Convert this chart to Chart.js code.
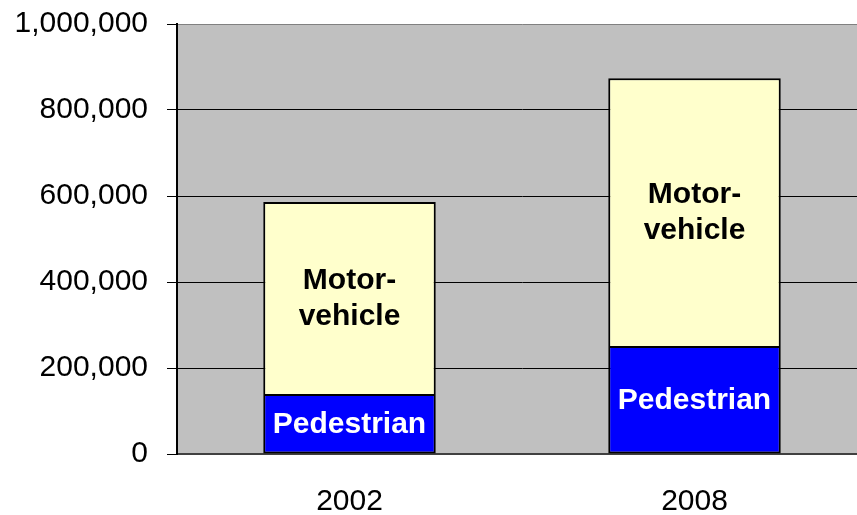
<!DOCTYPE html>
<html><head><meta charset="utf-8">
<script src="https://cdn.jsdelivr.net/npm/chart.js@4/dist/chart.umd.min.js"></script>
<style>
html,body{margin:0;padding:0;background:#fff;overflow:hidden;width:857px;height:515px;}
#wrap{position:relative;width:867px;height:515px;}
</style></head>
<body><div id="wrap"><canvas id="c" width="867" height="515"></canvas></div>
<script>
const categories = ['2002', '2008'];
const pedestrian = [135000, 246500];
const motorVehicle = [451000, 627500];
const seriesNames = ['Pedestrian', 'Motor-vehicle'];
const segmentText = [['Pedestrian'], ['Motor-', 'vehicle']];
const yTicks = [0, 200000, 400000, 600000, 800000, 1000000];

const FONT = "'Liberation Sans', Arial, sans-serif";

const bgPlugin = {
  id: 'plotBg',
  beforeDraw(chart) {
    const a = chart.chartArea, ctx = chart.ctx;
    ctx.save();
    ctx.fillStyle = '#C0C0C0';
    ctx.fillRect(a.left, a.top, a.right - a.left, a.bottom - a.top);
    ctx.restore();
  }
};

const labelPlugin = {
  id: 'segLabels',
  afterDatasetsDraw(chart) {
    const ctx = chart.ctx;
    ctx.save();
    ctx.font = "bold 30px " + FONT;
    ctx.textAlign = 'center';
    ctx.textBaseline = 'middle';
    chart.data.datasets.forEach((ds, di) => {
      const meta = chart.getDatasetMeta(di);
      const lines = segmentText[di];
      ctx.fillStyle = di === 0 ? '#FFFFFF' : '#000000';
      meta.data.forEach(el => {
        const cy = (el.y + el.base) / 2;
        const lh = 36;
        const start = cy - (lines.length - 1) * lh / 2;
        lines.forEach((t, i) => ctx.fillText(t, el.x, start + i * lh));
      });
    });
    ctx.restore();
  }
};

new Chart(document.getElementById('c'), {
  type: 'bar',
  data: {
    labels: categories,
    datasets: [
      { label: seriesNames[0], data: pedestrian, backgroundColor: '#0000FF', borderColor: '#000000',
        borderWidth: { top: 0, left: 2, right: 2, bottom: 2 }, borderSkipped: false },
      { label: seriesNames[1], data: motorVehicle, backgroundColor: '#FFFFCC', borderColor: '#000000',
        borderWidth: 2, borderSkipped: false }
    ]
  },
  options: {
    responsive: false,
    animation: false,
    layout: { padding: { left: 0, top: 24, right: 0, bottom: 0 } },
    plugins: { legend: { display: false }, tooltip: { enabled: false } },
    datasets: { bar: { barPercentage: 0.5, categoryPercentage: 1.0 } },
    scales: {
      x: {
        stacked: true,
        grid: { display: false, drawTicks: false },
        border: { display: true, color: '#404040', width: 2 },
        ticks: { color: '#000', font: { family: FONT, size: 30 }, padding: 30 },
        afterFit(s) { s.height = 61; s.paddingLeft = 0; s.paddingRight = 0; }
      },
      y: {
        stacked: true,
        min: 0, max: 1000000,
        afterBuildTicks(s) { s.ticks = yTicks.map(v => ({ value: v })); },
        grid: {
          color: ctx => ctx.tick && ctx.tick.value === 1000000 ? '#808080' : (ctx.tick && ctx.tick.value === 0 ? '#404040' : '#000000'),
          tickColor: '#000000',
          tickLength: 10,
          lineWidth: 1
        },
        border: { display: true, color: '#000000', width: 2 },
        ticks: {
          color: '#000', font: { family: FONT, size: 30 }, padding: 19,
          callback: v => v.toLocaleString('en-US')
        },
        afterFit(s) { s.width = 177; s.paddingTop = 0; s.paddingBottom = 0; }
      }
    }
  },
  plugins: [bgPlugin, labelPlugin]
});
</script></body></html>
